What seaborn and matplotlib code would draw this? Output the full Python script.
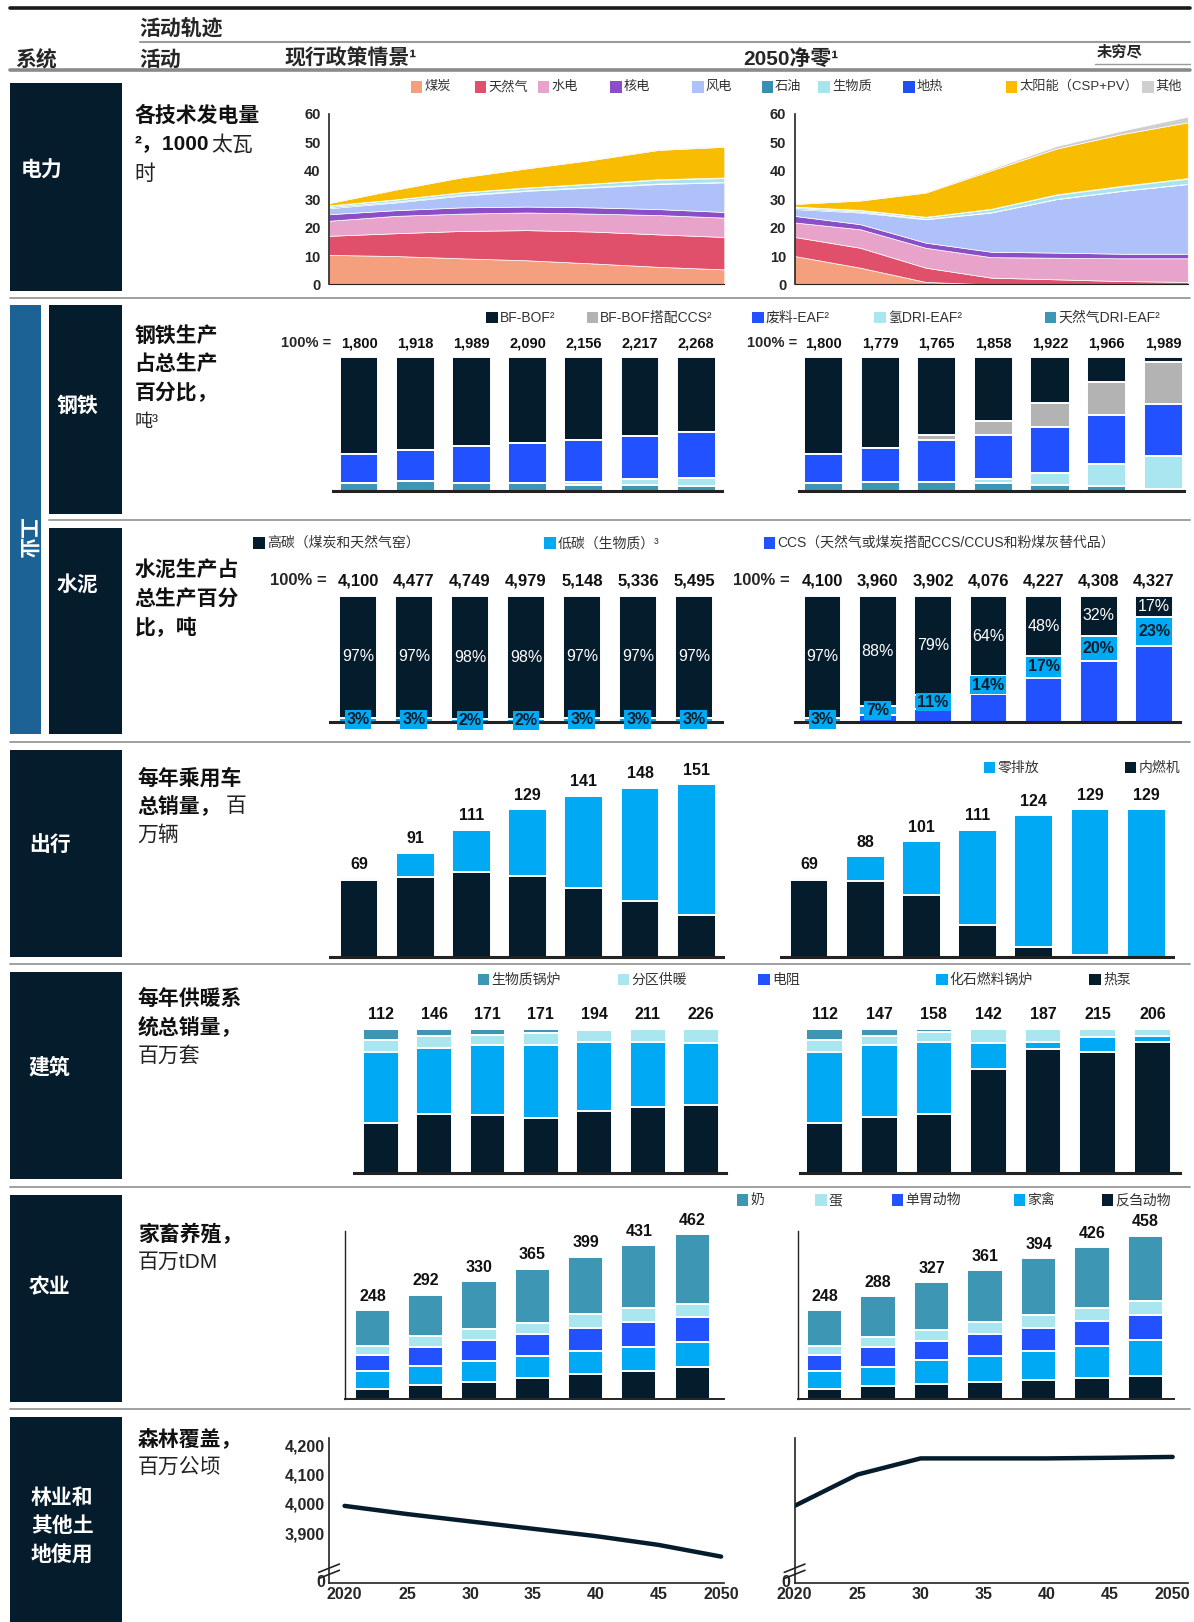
import numpy as np
import pandas as pd
import matplotlib
matplotlib.use('Agg')
import matplotlib.pyplot as plt
import seaborn as sns
from matplotlib.patches import Rectangle
from matplotlib.lines import Line2D

# ---------------- data ----------------
years = [2020, 2025, 2030, 2035, 2040, 2045, 2050]
year_labels = ['2020', '25', '30', '35', '40', '45', '2050']

power_labels = ['煤炭', '天然气', '水电', '核电', '风电', '石油', '生物质', '地热', '太阳能（CSP+PV）', '其他']
# current policy scenario, 1000 TWh
pc_coal = [10.4, 10.0, 9.2, 8.5, 7.4, 6.2, 5.3]
pc_gas = [6.7, 8.0, 9.6, 10.6, 11.2, 11.4, 11.4]
pc_hydro = [5.3, 6.1, 6.1, 6.2, 6.3, 6.8, 6.8]
pc_nuclear = [2.3, 2.0, 2.2, 2.1, 2.2, 2.1, 2.0]
pc_wind = [2.1, 2.7, 4.1, 5.5, 7.0, 8.8, 10.4]
pc_oil = [0.4, 0.3, 0.3, 0.2, 0.2, 0.2, 0.1]
pc_biomass = [0.5, 0.7, 0.8, 0.9, 1.1, 1.3, 1.4]
pc_geo = [0.1, 0.1, 0.1, 0.1, 0.1, 0.2, 0.2]
pc_solar = [0.8, 3.4, 5.2, 6.7, 8.3, 10.3, 10.8]
pc_other = [0.3, 0.3, 0.3, 0.3, 0.3, 0.3, 0.3]
# net zero 2050
pn_coal = [10.0, 5.9, 0.9, 0.0, 0.0, 0.0, 0.0]
pn_gas = [6.7, 7.0, 5.0, 2.4, 1.8, 1.2, 0.9]
pn_hydro = [5.1, 6.5, 7.0, 7.2, 7.6, 8.0, 8.3]
pn_nuclear = [2.3, 1.8, 1.8, 1.9, 1.8, 1.6, 1.6]
pn_wind = [2.4, 4.1, 8.2, 13.8, 18.8, 22.1, 24.5]
pn_oil = [0.4, 0.3, 0.2, 0.1, 0.1, 0.1, 0.1]
pn_biomass = [0.4, 0.5, 0.6, 1.1, 1.4, 1.5, 1.8]
pn_geo = [0.1, 0.1, 0.1, 0.1, 0.2, 0.2, 0.2]
pn_solar = [0.9, 3.3, 8.5, 13.5, 16.1, 18.2, 19.6]
pn_other = [0.3, 0.3, 0.3, 0.5, 0.9, 1.2, 2.0]

steel_labels = ['BF-BOF²', 'BF-BOF搭配CCS²', '废料-EAF²', '氢DRI-EAF²', '天然气DRI-EAF²']
steel_cur_total = [1800, 1918, 1989, 2090, 2156, 2217, 2268]
steel_nz_total = [1800, 1779, 1765, 1858, 1922, 1966, 1989]
# shares in %, bottom to top: NG DRI, H2 DRI, scrap EAF, BF-BOF CCS, BF-BOF
sc_ngdri = [6, 8, 6, 6, 5, 5, 4]
sc_h2dri = [0, 0, 0, 0, 2, 4, 6]
sc_scrap = [22, 23, 28, 30, 31, 32, 34]
sc_ccs = [0, 0, 0, 0, 0, 0, 0]
sc_bfbof = [72, 69, 66, 64, 62, 59, 56]
sn_ngdri = [6, 7, 7, 6, 5, 4, 2]
sn_h2dri = [0, 0, 0, 3, 9, 16, 24]
sn_scrap = [22, 25, 31, 33, 34, 37, 39]
sn_ccs = [0, 0, 4, 10, 18, 24, 31]
sn_bfbof = [72, 68, 58, 48, 34, 19, 4]

cement_labels = ['高碳（煤炭和天然气窑）', '低碳（生物质）³', 'CCS（天然气或煤炭搭配CCS/CCUS和粉煤灰替代品）']
cement_cur_total = [4100, 4477, 4749, 4979, 5148, 5336, 5495]
cement_nz_total = [4100, 3960, 3902, 4076, 4227, 4308, 4327]
cc_high = [97, 97, 98, 98, 97, 97, 97]
cc_low = [3, 3, 2, 2, 3, 3, 3]
cc_ccs = [0, 0, 0, 0, 0, 0, 0]
cn_high = [97, 88, 79, 64, 48, 32, 17]
cn_low = [3, 7, 11, 14, 17, 20, 23]
cn_ccs = [0, 5, 10, 22, 35, 48, 60]

mob_labels = ['零排放', '内燃机']
mob_cur_total = [69, 91, 111, 129, 141, 148, 151]
mob_cur_ice = [67, 70, 74, 71, 60, 49, 37]
mob_nz_total = [69, 88, 101, 111, 124, 129, 129]
mob_nz_ice = [67, 66, 54, 28, 9, 2, 0]

heat_labels = ['生物质锅炉', '分区供暖', '电阻', '化石燃料锅炉', '热泵']
heat_cur_total = [112, 146, 171, 171, 194, 211, 226]
heat_nz_total = [112, 147, 158, 142, 187, 215, 206]
# shares in %
hc_pump = [35, 41, 40, 38, 43, 46, 47]
hc_fossil = [49, 46, 49, 51, 48, 45, 43]
hc_resist = [0, 0, 0, 0, 0, 0, 0]
hc_district = [8, 8, 7, 8, 8, 9, 10]
hc_biomass = [8, 5, 4, 3, 1, 0, 0]
hn_pump = [35, 39, 41, 72, 86, 84, 91]
hn_fossil = [49, 50, 50, 18, 5, 10, 4]
hn_resist = [0, 0, 0, 0, 0, 0, 0]
hn_district = [8, 6, 7, 10, 9, 6, 5]
hn_biomass = [8, 5, 2, 0, 0, 0, 0]

agri_labels = ['奶', '蛋', '单胃动物', '家禽', '反刍动物']
agri_cur_total = [248, 292, 330, 365, 399, 431, 462]
agri_nz_total = [248, 288, 327, 361, 394, 426, 458]
ac_rumin = [27, 38, 47, 58, 69, 78, 88]
ac_poultry = [50, 54, 58, 61, 65, 68, 71]
ac_mono = [45, 53, 60, 61, 64, 70, 70]
ac_egg = [26, 31, 30, 33, 39, 38, 38]
ac_milk = [100, 116, 135, 152, 162, 177, 195]
an_rumin = [27, 34, 40, 47, 52, 58, 63]
an_poultry = [50, 55, 67, 72, 82, 89, 101]
an_mono = [45, 55, 56, 61, 64, 71, 72]
an_egg = [26, 28, 30, 36, 38, 36, 38]
an_milk = [100, 116, 134, 145, 158, 172, 184]

forest_cur = [3993, 3965, 3940, 3915, 3890, 3860, 3820]
forest_nz = [3993, 4100, 4155, 4155, 4155, 4157, 4160]
forest_ticks = [3900, 4000, 4100, 4200]

# ---------------- style ----------------
sns.set_theme(style='white')
plt.rcParams['font.family'] = ['Liberation Sans', 'Noto Sans CJK SC', 'DejaVu Sans']
plt.rcParams['axes.unicode_minus'] = False

DARK = '#051C2C'
ELEC = '#2251FF'
CYAN = '#00A9F4'
LIGHT = '#AAE6F0'
TEAL = '#3C96B4'
GREY = '#B3B3B3'
IND = '#1D6294'
power_colors = ['#F4A07E', '#E0506A', '#E8A3CB', '#8A4FC8', '#AEC2F9',
                '#3A8FB0', '#A8E4EE', '#2050F0', '#F8BC00', '#CFCFCF']
steel_colors = [TEAL, LIGHT, ELEC, GREY, DARK]

W, H = 1154.0, 1568.0
fig = plt.figure(figsize=(11.94, 16.22), dpi=100)


def fx(x):
    return x / W


def fy(y):
    return 1 - y / H


def T(x, y, s, **kw):
    kw.setdefault('va', 'center')
    kw.setdefault('ha', 'left')
    fig.text(fx(x), fy(y), s, **kw)


def HL(x0, x1, y, color='#9a9a9a', lw=1.5):
    fig.add_artist(Line2D([fx(x0), fx(x1)], [fy(y), fy(y)], color=color, lw=lw,
                          transform=fig.transFigure))


def BOX(x0, y0, x1, y1, color):
    fig.add_artist(Rectangle((fx(x0), fy(y1)), fx(x1) - fx(x0), fy(y0) - fy(y1),
                             transform=fig.transFigure, facecolor=color, edgecolor='none'))


def AX(x0, y0, x1, y1):
    ax = fig.add_axes([fx(x0), fy(y1), fx(x1) - fx(x0), fy(y0) - fy(y1)])
    ax.patch.set_alpha(0)
    return ax


def LEG(x, y, color, label, size=9.5):
    sq = 11
    BOX(x, y - sq / 2, x + sq, y + sq / 2, color)
    T(x + sq + 2, y, label, fontsize=size, color='#333333')


def stacked(ax, layers, colors, width, lw=1.3):
    n = len(layers[0])
    cats = [str(i) for i in range(n)]
    cum = np.cumsum(np.array(layers, dtype=float), axis=0)
    for k in range(len(layers) - 1, -1, -1):
        df = pd.DataFrame({'cat': cats, 'val': cum[k]})
        sns.barplot(data=df, x='cat', y='val', order=cats, color=colors[k], width=width,
                    saturation=1, edgecolor='white', linewidth=lw, ax=ax, errorbar=None)
    ax.set_xlabel('')
    ax.set_ylabel('')
    return cum


def bar_axes(rect, c0, d, ymax, left_spine=False, base_lw=2.2):
    x0, y0, x1, y1 = rect
    ax = AX(x0, y0, x1, y1)
    return ax, ((x0 - c0) / d, (x1 - c0) / d, ymax, left_spine, base_lw)


def finish_bar(ax, spec):
    xl, xr, ymax, left_spine, base_lw = spec
    ax.set_xlim(xl, xr)
    ax.set_ylim(0, ymax)
    ax.set_xticks([])
    ax.set_yticks([])
    for s in ['top', 'right', 'left']:
        ax.spines[s].set_visible(False)
    ax.spines['bottom'].set_color('#222222')
    ax.spines['bottom'].set_linewidth(base_lw)
    ax.spines['bottom'].set_zorder(5)
    if left_spine:
        ax.spines['left'].set_visible(True)
        ax.spines['left'].set_color('#222222')
        ax.spines['left'].set_linewidth(1.0)


def totals(ax, ypos, vals, fmt, size, off=9.7):
    for i, (y, v) in enumerate(zip(ypos, vals)):
        ax.annotate(fmt(v), (i, y), xytext=(0, off), textcoords='offset points',
                    ha='center', va='center', fontsize=size, fontweight='bold',
                    color='#111111', annotation_clip=False)


# ---------------- header ----------------
HL(10, 1150, 8, color='#1a1a1a', lw=2.6)
T(135, 27, '活动轨迹', fontsize=15, fontweight='bold')
HL(135, 1150, 41, color='#9a9a9a', lw=1.5)
T(15, 58, '系统', fontsize=15, fontweight='bold')
T(135, 58, '活动', fontsize=15, fontweight='bold')
T(275, 56, '现行政策情景¹', fontsize=15, fontweight='bold')
T(718, 57, '2050净零¹', fontsize=15, fontweight='bold')
T(1060, 50, '未穷尽', fontsize=11, fontweight='bold')
HL(1058, 1150, 62, color='#9a9a9a', lw=1)
HL(10, 1150, 68, color='#8a8a8a', lw=2.6)

# left column boxes
BOX(10, 80, 118, 281, DARK)
BOX(10, 295, 40, 710, IND)
BOX(47, 295, 118, 497, DARK)
BOX(47, 510, 118, 710, DARK)
BOX(10, 725, 118, 925, DARK)
BOX(10, 940, 118, 1140, DARK)
BOX(10, 1155, 118, 1355, DARK)
BOX(10, 1370, 118, 1568, DARK)
wb = dict(color='white', fontsize=15, fontweight='bold')
T(20, 165, '电力', **wb)
T(25, 520, '工业', rotation=-90, ha='center', **wb)
T(55, 392, '钢铁', **wb)
T(55, 565, '水泥', **wb)
T(28, 818, '出行', **wb)
T(28, 1032, '建筑', **wb)
T(28, 1245, '农业', **wb)
T(30, 1476, '林业和\n其他土\n地使用', linespacing=1.55, **wb)

# separators
for yy, xs in [(288, 10), (503, 47), (717, 10), (932, 10), (1147, 10), (1362, 10)]:
    HL(xs, 1150, yy, color='#a0a0a0', lw=1.4)

# activity texts
bk = dict(fontsize=15, fontweight='bold', color='#111111')
rg = dict(fontsize=15, color='#222222')
T(130, 112, '各技术发电量', **bk)
T(130, 140, '²，1000', **bk)
T(204, 140, '太瓦', **rg)
T(130, 168, '时', **rg)
T(130, 325, '钢铁生产', **bk)
T(130, 352, '占总生产', **bk)
T(130, 380, '百分比，', **bk)
T(130, 408, '吨³', fontsize=13, color='#222222')
T(130, 551, '水泥生产占', **bk)
T(130, 579, '总生产百分', **bk)
T(130, 607, '比，吨', **bk)
T(133, 752, '每年乘用车', **bk)
T(133, 780, '总销量，', **bk)
T(218, 780, '百', **rg)
T(133, 807, '万辆', **rg)
T(133, 966, '每年供暖系', **bk)
T(133, 993, '统总销量，', **bk)
T(133, 1021, '百万套', **rg)
T(133, 1193, '家畜养殖，', **bk)
T(133, 1220, '百万tDM', **rg)
T(133, 1391, '森林覆盖，', **bk)
T(133, 1418, '百万公顷', **rg)

# ---------------- power ----------------
LEG(397, 84, power_colors[0], power_labels[0])
LEG(459, 84, power_colors[1], power_labels[1])
LEG(520, 84, power_colors[2], power_labels[2])
LEG(590, 84, power_colors[3], power_labels[3])
LEG(669, 84, power_colors[4], power_labels[4])
LEG(736, 84, power_colors[5], power_labels[5])
LEG(791, 84, power_colors[6], power_labels[6])
LEG(873, 84, power_colors[7], power_labels[7])
LEG(972, 84, power_colors[8], power_labels[8])
LEG(1104, 84, power_colors[9], power_labels[9])

for rect, ser in [((318, 110, 700, 275), [pc_coal, pc_gas, pc_hydro, pc_nuclear, pc_wind, pc_oil, pc_biomass, pc_geo, pc_solar, pc_other]),
                  ((768, 110, 1148, 275), [pn_coal, pn_gas, pn_hydro, pn_nuclear, pn_wind, pn_oil, pn_biomass, pn_geo, pn_solar, pn_other])]:
    ax = AX(*rect)
    ax.stackplot(years, *ser, colors=power_colors, edgecolor='white', linewidth=0.5)
    ax.set_xlim(2020, 2050)
    ax.set_ylim(0, 60)
    ax.set_yticks(range(0, 61, 10))
    ax.set_xticks([])
    for s in ['top', 'right']:
        ax.spines[s].set_visible(False)
    ax.spines['left'].set_color('#222222')
    ax.spines['bottom'].set_color('#222222')
    ax.spines['left'].set_linewidth(1.2)
    ax.spines['bottom'].set_linewidth(0.8)
    ax.tick_params(axis='y', length=0, labelsize=10.5, pad=6)
    for t in ax.get_yticklabels():
        t.set_fontweight('bold')

# ---------------- steel ----------------
LEG(470, 307, DARK, steel_labels[0], size=10)
LEG(567, 307, GREY, steel_labels[1], size=10)
LEG(727, 307, ELEC, steel_labels[2], size=10)
LEG(845, 307, LIGHT, steel_labels[3], size=10)
LEG(1010, 307, TEAL, steel_labels[4], size=10)
T(272, 332, '100% =', fontsize=10.5, fontweight='bold')
T(722, 332, '100% =', fontsize=10.5, fontweight='bold')
for rect, c0, d, layers, tot in [((322, 345, 698, 475), 347, 54.3, [sc_ngdri, sc_h2dri, sc_scrap, sc_ccs, sc_bfbof], steel_cur_total),
                                 ((772, 345, 1144, 475), 796, 54.7, [sn_ngdri, sn_h2dri, sn_scrap, sn_ccs, sn_bfbof], steel_nz_total)]:
    ax, spec = bar_axes(rect, c0, d, 100)
    cum = stacked(ax, layers, steel_colors, 0.69, lw=1.4)
    finish_bar(ax, spec)
    totals(ax, cum[-1], tot, lambda v: f'{v:,}', 10.5, off=9.7)

# ---------------- cement ----------------
LEG(245, 525, DARK, cement_labels[0], size=10)
LEG(526, 525, CYAN, cement_labels[1], size=10)
LEG(738, 525, ELEC, cement_labels[2], size=10)
T(261, 561, '100% =', fontsize=12, fontweight='bold')
T(708, 561, '100% =', fontsize=12, fontweight='bold')
for rect, c0, d, layers, tot in [((319, 576, 698, 697.5), 346, 54.1, [cc_ccs, cc_low, cc_high], cement_cur_total),
                                 ((768, 576, 1140, 697.5), 795, 53.4, [cn_ccs, cn_low, cn_high], cement_nz_total)]:
    ax, spec = bar_axes(rect, c0, d, 100)
    cum = stacked(ax, layers, [ELEC, CYAN, DARK], 0.68, lw=1.4)
    finish_bar(ax, spec)
    totals(ax, cum[-1], tot, lambda v: f'{v:,}', 12, off=10.5)
    for i in range(7):
        hi = layers[2][i]
        lo = layers[1][i]
        ax.text(i, (cum[1][i] + cum[2][i]) / 2, f'{hi}%', ha='center', va='center',
                color='white', fontsize=11.5, zorder=6)
        ax.text(i, (cum[0][i] + cum[1][i]) / 2, f'{lo}%', ha='center', va='center',
                color=DARK, fontsize=11.5, fontweight='bold', zorder=7, clip_on=False,
                bbox=dict(boxstyle='square,pad=0.12', facecolor=CYAN, edgecolor='none'))

# ---------------- mobility ----------------
LEG(951, 742, CYAN, mob_labels[0], size=10)
LEG(1087, 742, DARK, mob_labels[1], size=10)
mob_ymax = 151 * 185 / 167.0
for rect, c0, tot, ice in [((319, 740, 699, 925), 347, mob_cur_total, mob_cur_ice),
                           ((755, 740, 1134, 925), 782, mob_nz_total, mob_nz_ice)]:
    ax, spec = bar_axes(rect, c0, 54.3, mob_ymax)
    zev = [t - i for t, i in zip(tot, ice)]
    cum = stacked(ax, [ice, zev], [DARK, CYAN], 0.69, lw=1.4)
    finish_bar(ax, spec)
    totals(ax, cum[-1], tot, str, 11.5, off=10)

# ---------------- buildings ----------------
LEG(462, 947, TEAL, heat_labels[0], size=10)
LEG(597, 947, LIGHT, heat_labels[1], size=10)
LEG(733, 947, ELEC, heat_labels[2], size=10)
LEG(905, 947, CYAN, heat_labels[3], size=10)
LEG(1053, 947, DARK, heat_labels[4], size=10)
for rect, c0, d, layers, tot in [((342, 994.5, 702, 1134), 368, 51.6, [hc_pump, hc_fossil, hc_resist, hc_district, hc_biomass], heat_cur_total),
                                 ((773, 994.5, 1140, 1134), 797, 52.8, [hn_pump, hn_fossil, hn_resist, hn_district, hn_biomass], heat_nz_total)]:
    ax, spec = bar_axes(rect, c0, d, 100)
    cum = stacked(ax, layers, [DARK, CYAN, ELEC, LIGHT, TEAL], 0.67, lw=1.4)
    finish_bar(ax, spec)
    totals(ax, [100] * 7, tot, str, 11.5, off=10)

# ---------------- agriculture ----------------
LEG(712, 1160, TEAL, agri_labels[0], size=10)
LEG(788, 1160, LIGHT, agri_labels[1], size=10)
LEG(862, 1160, ELEC, agri_labels[2], size=10)
LEG(980, 1160, CYAN, agri_labels[3], size=10)
LEG(1065, 1160, DARK, agri_labels[4], size=10)
agri_ymax = 462 * 162 / 159.0
for rect, c0, d, layers, tot in [((333, 1190, 700, 1352), 360, 51.5, [ac_rumin, ac_poultry, ac_mono, ac_egg, ac_milk], agri_cur_total),
                                 ((771, 1190, 1135, 1352), 797, 51.7, [an_rumin, an_poultry, an_mono, an_egg, an_milk], agri_nz_total)]:
    ax, spec = bar_axes(rect, c0, d, agri_ymax, left_spine=True, base_lw=1.4)
    cum = stacked(ax, layers, [DARK, CYAN, ELEC, LIGHT, TEAL], 0.66, lw=1.4)
    finish_bar(ax, spec)
    totals(ax, cum[-1], tot, str, 11.5, off=10)

# ---------------- forestry ----------------
f_lo, f_hi, f_zero = 3731, 4225, 3738
for rect, xl, xr, vals, show_ticks in [((318, 1390, 700, 1530), 2018.76, 2050.25, forest_cur, True),
                                       ((768, 1390, 1148, 1530), 2020.0, 2051.2, forest_nz, False)]:
    ax = AX(*rect)
    df = pd.DataFrame({'year': years, 'val': vals})
    sns.lineplot(data=df, x='year', y='val', color=DARK, linewidth=3.2, ax=ax)
    ax.set_xlim(xl, xr)
    ax.set_ylim(f_lo, f_hi)
    ax.set_xlabel('')
    ax.set_ylabel('')
    ax.set_xticks(years)
    ax.set_xticklabels(year_labels, fontsize=11.5, fontweight='bold')
    if show_ticks:
        ax.set_yticks([f_zero] + forest_ticks)
        ax.set_yticklabels(['0'] + [f'{v:,}' for v in forest_ticks], fontsize=11.5,
                           fontweight='bold')
    else:
        ax.set_yticks([f_zero])
        ax.set_yticklabels(['0'], fontsize=11.5, fontweight='bold')
    ax.tick_params(length=0, pad=3)
    for s in ['top', 'right']:
        ax.spines[s].set_visible(False)
    for s in ['left', 'bottom']:
        ax.spines[s].set_color('#222222')
        ax.spines[s].set_linewidth(1.2)
    # axis break marks
    wpx = rect[2] - rect[0]
    hpx = rect[3] - rect[1]
    yb = (rect[3] - 1519) / hpx
    for dy in (-3.0, 3.0):
        ax.plot([-10 / wpx, 10 / wpx], [yb + (dy - 4) / hpx, yb + (dy + 4) / hpx],
                transform=ax.transAxes, color='#222222', lw=1.2, clip_on=False)

fig.savefig('out.png', dpi=100)
